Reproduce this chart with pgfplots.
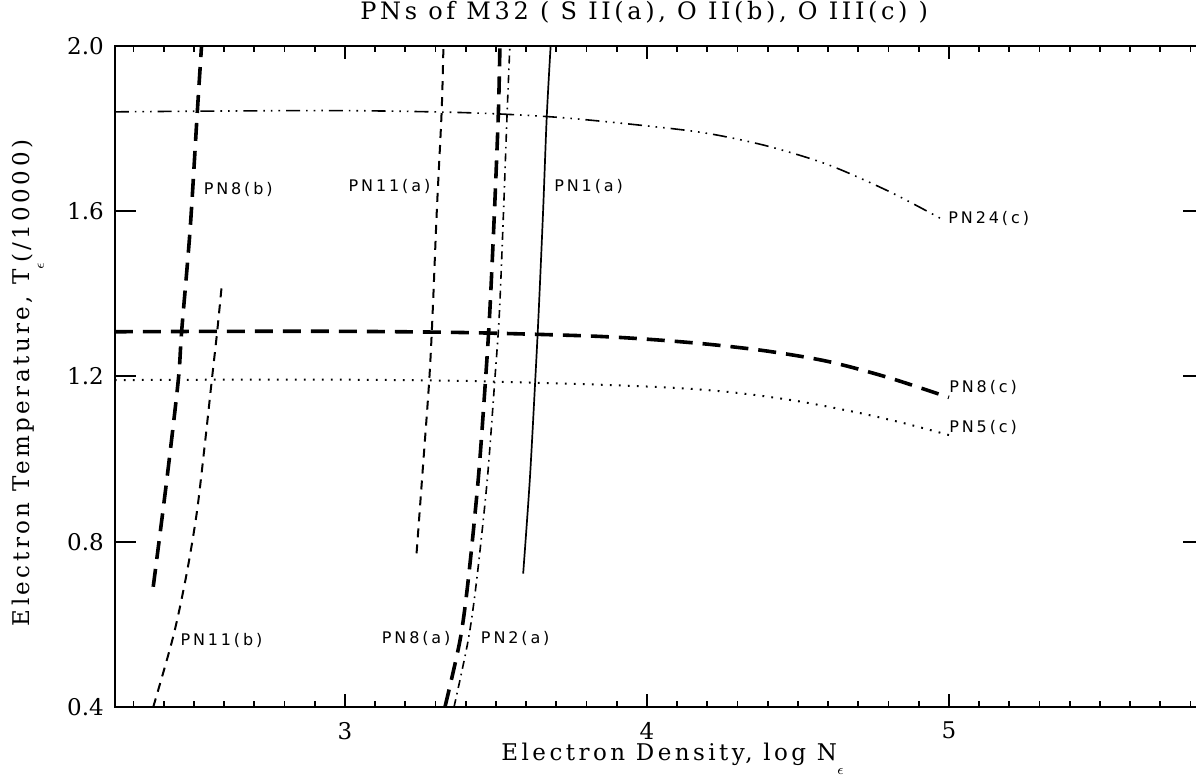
\documentclass[border=0pt]{standalone}
\usepackage{fontspec}
\setmainfont{DejaVu Serif}
\newfontfamily\lsfont{DejaVu Serif}[LetterSpace=15]
\newfontfamily\lblfont{DejaVu Sans}[LetterSpace=18]
\usepackage{pgfplots}
\pgfplotsset{compat=1.18}

\newcommand\mainsz{\fontsize{11.5}{13}\selectfont}
\newcommand\eps{\raisebox{-7pt}{\scriptsize$\epsilon$}}

\pgfplotsset{
  common/.style={
    scale only axis, width=544.6pt, height=330.65pt,
    xmin=2.238, xmax=5.845, ymin=0.4, ymax=2.0,
    axis line style={line width=1pt},
    tick style={black, line width=0.9pt},
    tick align=inside, xtick pos=both, ytick pos=both,
    ytick={0.4,0.8,1.2,1.6,2.0},
    /pgf/number format/assume math mode=true,
  },
}
\tikzset{lbl/.style={font=\lblfont\fontsize{8}{9}\selectfont, inner sep=0pt, anchor=west}}

\begin{document}
\begin{tikzpicture}
\begin{axis}[
  common,
  xtick={3,4,5},
  minor xtick={2.3,2.4,2.5,2.6,2.7,2.8,2.9,3.1,3.2,3.3,3.4,3.5,3.6,3.7,3.8,3.9,
    4.1,4.2,4.3,4.4,4.5,4.6,4.7,4.8,4.9,5.1,5.2,5.3,5.4,5.5,5.6,5.7,5.8},
  major tick length=6.5pt, minor tick length=3pt,
  yticklabel={\pgfmathprintnumber[fixed,fixed zerofill,precision=1]{\tick}},
  ticklabel style={font=\mainsz},
  yticklabel style={xshift=-2pt},
  xticklabel style={yshift=-4pt},
  title={PNs of M32 ( S II(a), O II(b), O III(c) )},
  title style={font=\lsfont\fontsize{12}{14}\selectfont, at={(axis description cs:0.486,1.0212)}, anchor=base},
  xlabel={Electron Density, log N\eps},
  xlabel style={font=\lsfont\mainsz, at={(axis description cs:0.512,-0.0801)}, anchor=base},
  ylabel={Electron Temperature, T\eps(/10000)},
  ylabel style={font=\lsfont\mainsz, at={(axis description cs:-0.078,0.49)}, anchor=base},
  every axis plot/.append style={smooth, tension=0.5},
]
% O III (c)
\addplot[line width=0.8pt, dash pattern=on 7pt off 3pt on 0.8pt off 3pt on 0.8pt off 3pt on 0.8pt off 3pt]
  coordinates {(2.238,1.840) (2.6,1.842) (3.0,1.843) (3.4,1.838) (3.7,1.827)
    (4.0,1.806) (4.2,1.788) (4.4,1.757) (4.6,1.712) (4.8,1.648) (4.97,1.583)};
\addplot[line width=1.8pt, dash pattern=on 9pt off 5pt]
  coordinates {(2.238,1.308) (2.6,1.309) (3.0,1.309) (3.4,1.306) (3.8,1.298) (4.0,1.290)
    (4.2,1.278) (4.4,1.261) (4.6,1.236) (4.8,1.197) (5.0,1.149)};
\addplot[line width=1pt, dash pattern=on 0.9pt off 3.6pt]
  coordinates {(2.238,1.191) (2.6,1.192) (3.0,1.192) (3.4,1.189) (3.8,1.181) (4.1,1.172)
    (4.3,1.160) (4.5,1.140) (4.7,1.112) (4.85,1.087) (5.0,1.058)};
% O II (b)
\addplot[line width=1.8pt, dash pattern=on 9pt off 5pt]
  coordinates {(2.365,0.691) (2.41,0.95) (2.448,1.191) (2.459,1.308) (2.487,1.554)
    (2.511,1.840) (2.525,2.0)};
\addplot[line width=1pt, dash pattern=on 4.5pt off 3.5pt]
  coordinates {(2.365,0.4) (2.431,0.570) (2.475,0.72) (2.509,0.869) (2.535,1.03)
    (2.559,1.191) (2.577,1.31) (2.592,1.421)};
% S II (a)
\addplot[line width=1pt, dash pattern=on 4.5pt off 3.5pt]
  coordinates {(3.237,0.772) (3.258,0.98) (3.279,1.191) (3.290,1.35) (3.304,1.6)
    (3.320,1.840) (3.326,2.0)};
\addplot[line width=1.8pt, dash pattern=on 9pt off 5pt]
  coordinates {(3.331,0.4) (3.381,0.562) (3.408,0.707) (3.441,0.949) (3.463,1.167)
    (3.479,1.35) (3.495,1.6) (3.508,1.840) (3.513,2.0)};
\addplot[line width=0.8pt, dash pattern=on 4pt off 2.5pt on 0.8pt off 2.5pt]
  coordinates {(3.361,0.4) (3.408,0.562) (3.436,0.707) (3.471,0.949) (3.496,1.191)
    (3.511,1.35) (3.525,1.6) (3.537,1.840) (3.546,2.0)};
\addplot[line width=0.85pt]
  coordinates {(3.590,0.723) (3.612,0.95) (3.630,1.191) (3.641,1.35) (3.656,1.6)
    (3.668,1.827) (3.681,2.0)};

\node[lbl] at (axis cs:2.531,1.651) {PN8(b)};
\node[lbl] at (axis cs:3.011,1.659) {PN11(a)};
\node[lbl] at (axis cs:3.692,1.659) {PN1(a)};
\node[lbl] at (axis cs:4.997,1.583) {PN24(c)};
\node[lbl] at (axis cs:5.0,1.173) {PN8(c)};
\node[lbl] at (axis cs:5.0,1.077) {PN5(c)};
\node[lbl] at (axis cs:2.454,0.562) {PN11(b)};
\node[lbl] at (axis cs:3.121,0.566) {PN8(a)};
\node[lbl] at (axis cs:3.449,0.566) {PN2(a)};

\coordinate (bbSW) at (axis cs:1.8576,0.2210);
\coordinate (bbNE) at (axis cs:5.818,2.1106);
\end{axis}
% longer y ticks
\begin{axis}[common, hide x axis, yticklabels={}, major tick length=10.5pt]
\end{axis}
\pgfresetboundingbox
\path[use as bounding box] (bbSW) rectangle (bbNE);
\end{tikzpicture}
\end{document}
